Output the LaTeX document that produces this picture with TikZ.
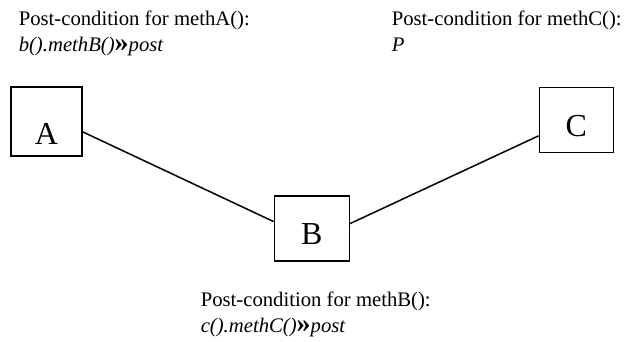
\documentclass[tikz,border=0pt]{standalone}
\usepackage{fontspec}
\setmainfont{Liberation Serif}
\usetikzlibrary{positioning}
\newcommand{\gtgt}{{\fontsize{28}{25}\selectfont\bfseries\upshape »}}

\begin{document}
\begin{tikzpicture}[x=1pt,y=-1pt,line width=1.5pt,
  cls/.style={draw,minimum width=#1,inner sep=0pt},
  lbl/.style={font=\fontsize{32}{36}\selectfont,inner sep=0pt,anchor=base},
  cond/.style={font=\fontsize{20.7}{25}\selectfont,inner sep=0pt,anchor=base west}]
\useasboundingbox (0,0) rectangle (626,342);
% classes
\node[cls=71pt,minimum height=69pt] (A) at (46.5,121.5) {};
\node[cls=75pt,minimum height=65pt] (B) at (311.8,228.3) {};
\node[cls=74pt,minimum height=65pt] (C) at (576.3,119.8) {};
\node[lbl] (Alab) at ([yshift=12pt]A.south) {A};
\node[lbl] (Blab) at ([yshift=17pt]B.south) {B};
\node[lbl] (Clab) at ([yshift=17pt]C.south) {C};
\draw (A.-16.5) -- (B.170.5);
\draw (B.7.6) -- (C.-157.7);
% post-conditions
\node[cond] (postA) at (18,26) {Post-condition for methA():};
\node[cond] (postAe) at (18,52) {\itshape b().methB()\gtgt post};
\node[cond] (postC) at (391,26) {Post-condition for methC():};
\node[cond] (postCe) at (391,52) {\itshape P};
\node[cond] (postB) at (200,306) {Post-condition for methB():};
\node[cond] (postBe) at (200,332) {\itshape c().methC()\gtgt post};
\end{tikzpicture}
\end{document}
